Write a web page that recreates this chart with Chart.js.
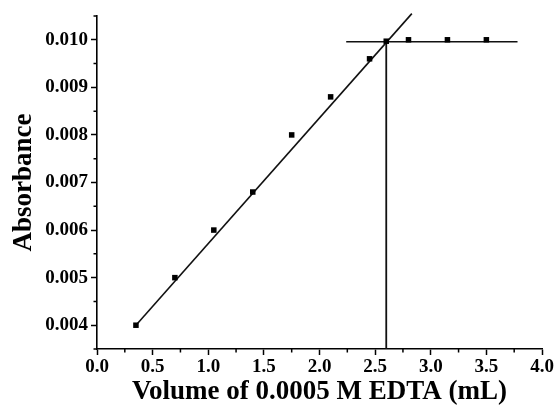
<!DOCTYPE html>
<html>
<head>
<meta charset="utf-8">
<script src="https://cdn.jsdelivr.net/npm/chart.js@4/dist/chart.umd.min.js"></script>
<style>
html,body{margin:0;padding:0;background:#fff;}
#wrap{width:556px;height:405px;position:relative;}
</style>
</head>
<body>
<div id="wrap"><canvas id="c" width="556" height="405"></canvas></div>
<script>
// Data
const volumes = [0.35, 0.70, 1.05, 1.40, 1.75, 2.10, 2.45, 2.60, 2.80, 3.15, 3.50];
const absorbance = [0.0040, 0.0050, 0.0060, 0.0068, 0.0080, 0.0088, 0.0096, 0.00997, 0.0100, 0.0100, 0.0100];
// Fitted rising line, plateau line and equivalence drop line (data space)
const fitX = [0.35, 2.83];
const fitY = [0.0040, 0.01055];
const plateauX = [2.24, 3.78];
const plateauY = [0.00996, 0.00996];
const dropX = [2.60, 2.60];
const dropY = [0.00996, 0.0035];
// Tick values
const xTicks = [0.0, 0.5, 1.0, 1.5, 2.0, 2.5, 3.0, 3.5, 4.0];
const xMinor = [0.25, 0.75, 1.25, 1.75, 2.25, 2.75, 3.25, 3.75];
const yTicks = [0.004, 0.005, 0.006, 0.007, 0.008, 0.009, 0.010];
const yMinor = [0.0035, 0.0045, 0.0055, 0.0065, 0.0075, 0.0085, 0.0095, 0.0105];

const pts = (xs, ys) => xs.map((x, i) => ({x: x, y: ys[i]}));
const FONT = '"Liberation Serif", "Times New Roman", serif';

const minorTicks = {
  id: 'minorTicks',
  afterDraw(chart) {
    const ctx = chart.ctx;
    const xs = chart.scales.x, ys = chart.scales.y;
    ctx.save();
    ctx.strokeStyle = '#000';
    ctx.lineWidth = 1.5;
    ctx.beginPath();
    xMinor.forEach(v => {
      const p = xs.getPixelForValue(v);
      ctx.moveTo(p, xs.top);
      ctx.lineTo(p, xs.top + 3.5);
    });
    yMinor.forEach(v => {
      const p = ys.getPixelForValue(v);
      ctx.moveTo(ys.right, p);
      ctx.lineTo(ys.right - 3.5, p);
    });
    ctx.stroke();
    ctx.restore();
  }
};

new Chart(document.getElementById('c'), {
  type: 'scatter',
  data: {
    datasets: [
      {
        data: pts(volumes, absorbance),
        pointStyle: 'rect',
        pointRadius: 3.9,
        backgroundColor: '#000',
        borderColor: '#000',
        borderWidth: 0,
        showLine: false,
        order: 0
      },
      {
        data: pts(fitX, fitY),
        showLine: true,
        pointRadius: 0,
        borderColor: '#111',
        borderWidth: 1.6,
        clip: false,
        order: 1
      },
      {
        data: pts(plateauX, plateauY),
        showLine: true,
        pointRadius: 0,
        borderColor: '#111',
        borderWidth: 1.6,
        order: 1
      },
      {
        data: pts(dropX, dropY),
        showLine: true,
        pointRadius: 0,
        borderColor: '#111',
        borderWidth: 1.8,
        order: 1
      }
    ]
  },
  options: {
    responsive: false,
    animation: false,
    events: [],
    layout: {padding: {top: 16, right: 14, left: 0, bottom: 0}},
    plugins: {legend: {display: false}, tooltip: {enabled: false}},
    scales: {
      x: {
        type: 'linear',
        min: 0, max: 4,
        afterBuildTicks: s => { s.ticks = xTicks.map(v => ({value: v})); },
        afterFit: s => { s.height = 56; },
        border: {display: true, color: '#000', width: 1.6},
        grid: {drawOnChartArea: false, drawTicks: true, tickLength: 6, color: '#000', tickWidth: 1.5},
        ticks: {
          color: '#000',
          padding: 1,
          maxRotation: 0,
          font: {family: FONT, size: 19, weight: 'bold'},
          callback: v => Number(v).toFixed(1)
        },
        title: {
          display: true,
          text: 'Volume of 0.0005 M EDTA (mL)',
          color: '#000',
          padding: {top: 0, bottom: -3},
          font: {family: FONT, size: 27, weight: 'bold'}
        }
      },
      y: {
        type: 'linear',
        min: 0.0035, max: 0.0105,
        afterBuildTicks: s => { s.ticks = yTicks.map(v => ({value: v})); },
        afterFit: s => { s.width = 97; },
        border: {display: true, color: '#000', width: 1.6},
        grid: {drawOnChartArea: false, drawTicks: true, tickLength: 6, color: '#000', tickWidth: 1.5},
        ticks: {
          color: '#000',
          padding: 3,
          font: {family: FONT, size: 19, weight: 'bold'},
          callback: v => Number(v).toFixed(3)
        },
        title: {
          display: true,
          text: 'Absorbance',
          color: '#000',
          padding: {top: 8, bottom: 0},
          font: {family: FONT, size: 27, weight: 'bold'}
        }
      }
    }
  },
  plugins: [minorTicks]
});
</script>
</body>
</html>
